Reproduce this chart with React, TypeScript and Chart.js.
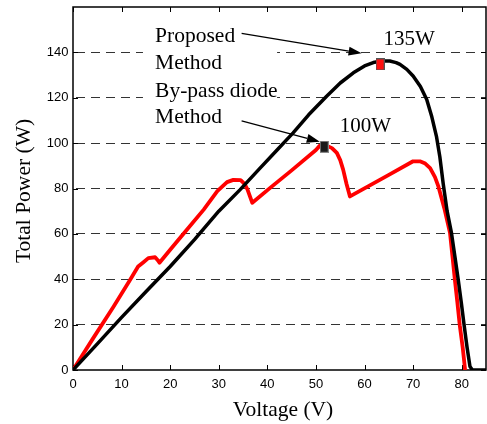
import React, { useEffect, useRef } from "react";
import { Chart, registerables } from "chart.js";

Chart.register(...registerables);

// ---- Data ----
const proposedV = [0, 5, 10, 15, 20, 25, 30, 34.4, 38.5, 42, 45.3, 48.5, 52.2, 55, 57.7, 60, 61.8, 63.5, 65.2, 66.5, 67.3, 68.7, 70, 71.5, 72.8, 73.8, 74.8, 75.5, 76.2, 77, 77.9, 78.6, 79.3, 79.9, 80.5, 81.1, 81.7, 82.2, 85];
const proposedP = [0, 11.5, 23.2, 34.5, 45.6, 57.5, 70, 79.5, 89, 97, 104.5, 112.5, 120.7, 126.5, 131, 134, 135.5, 136.2, 136.2, 135.5, 134.7, 132.5, 129.6, 125, 119.2, 112, 103, 94, 82, 70, 60.3, 50, 39.6, 30, 19.7, 10, 1.5, 0, 0];

const bypassV = [0, 4, 8.3, 11.7, 13.4, 14.5, 15.5, 16.9, 17.4, 17.8, 20, 23, 26.9, 29.7, 31.7, 33, 34.5, 35.3, 35.9, 36.9, 40.7, 45, 50, 50.8, 52.2, 53.3, 54.3, 55, 55.6, 56.3, 57, 61.1, 65, 70, 71.4, 72.5, 73.5, 74.5, 75.2, 76.5, 77.6, 78.1, 78.6, 79.1, 79.6, 80.2, 80.7];
const bypassP = [0, 13.5, 27.8, 39.6, 45.6, 47.5, 49.3, 49.7, 48.5, 47.3, 53, 60.7, 70.7, 78.8, 82.8, 83.8, 83.7, 82, 79.6, 73.7, 80.5, 88, 97, 98.9, 98.9, 97.8, 95.7, 92.5, 88.3, 82, 76.5, 81.4, 86, 92, 92, 91, 89, 85, 80.9, 70.6, 60.3, 50, 39.6, 30, 19.7, 10, 0];

const xTicks = [0, 10, 20, 30, 40, 50, 60, 70, 80];
const yTicks = [0, 20, 40, 60, 80, 100, 120, 140];

const mppV = [63.2, 51.7];
const mppP = [134.7, 98.4];
const mppLabels = ["135W", "100W"];
const mppLabelV = [63.9, 54.9];
const mppLabelP = [143.3, 105];

const noteLines = ["Proposed", "Method", "By-pass diode", "Method"];
const noteLineP = [144.4, 132.7, 120.5, 108.7];
const noteV = 16.9;
const noteBoxV = [14.4, 42];
const noteBoxP = [154, 105.5];

const arrowFromV = [34.7, 34.7];
const arrowFromP = [148.4, 109.8];
const arrowToV = [59.4, 50.8];
const arrowToP = [139.6, 100.6];

const xTitle = "Voltage (V)";
const yTitle = "Total Power (W)";

const SERIF = "'Liberation Serif', 'Times New Roman', serif";
const SANS = "'Liberation Sans', Arial, sans-serif";

function makeMarker(fill: string, stroke: string) {
  const c = document.createElement("canvas");
  c.width = 9;
  c.height = 12;
  const g = c.getContext("2d")!;
  g.fillStyle = stroke;
  g.fillRect(0, 0, 9, 12);
  g.fillStyle = fill;
  g.fillRect(1, 1, 7, 10);
  return c;
}

const decorPlugin = {
  id: "decor",
  beforeDatasetsDraw(chart: any) {
    const { ctx, chartArea, scales } = chart;
    const xs = scales.x;
    const ys = scales.y;
    ctx.save();
    // white box behind the note text
    const bx0 = xs.getPixelForValue(noteBoxV[0]);
    const bx1 = xs.getPixelForValue(noteBoxV[1]);
    const by0 = ys.getPixelForValue(noteBoxP[0]);
    const by1 = ys.getPixelForValue(noteBoxP[1]);
    ctx.fillStyle = "#fff";
    ctx.fillRect(bx0, by0, bx1 - bx0, by1 - by0);

    // frame
    ctx.strokeStyle = "#000";
    ctx.lineWidth = 1.5;
    ctx.strokeRect(chartArea.left, chartArea.top, chartArea.right - chartArea.left, chartArea.bottom - chartArea.top);

    // inward tick marks
    ctx.lineWidth = 1;
    ctx.beginPath();
    xTicks.forEach((v) => {
      const px = Math.round(xs.getPixelForValue(v)) + 0.5;
      ctx.moveTo(px, chartArea.bottom);
      ctx.lineTo(px, chartArea.bottom - 5);
      ctx.moveTo(px, chartArea.top);
      ctx.lineTo(px, chartArea.top + 5);
    });
    yTicks.forEach((v) => {
      const py = Math.round(ys.getPixelForValue(v)) + 0.5;
      ctx.moveTo(chartArea.left, py);
      ctx.lineTo(chartArea.left + 5, py);
      ctx.moveTo(chartArea.right, py);
      ctx.lineTo(chartArea.right - 5, py);
    });
    ctx.stroke();

    // axis titles
    ctx.fillStyle = "#000";
    ctx.font = `21.5px ${SERIF}`;
    ctx.textAlign = "center";
    ctx.textBaseline = "alphabetic";
    ctx.fillText(xTitle, (chartArea.left + chartArea.right) / 2 + 3.5, chartArea.bottom + 45.5);
    ctx.save();
    ctx.translate(chartArea.left - 43, (chartArea.top + chartArea.bottom) / 2 + 2.5);
    ctx.rotate(-Math.PI / 2);
    ctx.fillText(yTitle, 0, 0);
    ctx.restore();
    ctx.restore();
  },
  afterDatasetsDraw(chart: any) {
    const { ctx, scales } = chart;
    const xs = scales.x;
    const ys = scales.y;
    ctx.save();
    ctx.fillStyle = "#000";
    ctx.textAlign = "left";
    ctx.textBaseline = "alphabetic";
    ctx.font = `21.5px ${SERIF}`;
    noteLines.forEach((t, i) => {
      ctx.fillText(t, xs.getPixelForValue(noteV), ys.getPixelForValue(noteLineP[i]));
    });
    ctx.font = `21px ${SERIF}`;
    mppLabels.forEach((t, i) => {
      ctx.fillText(t, xs.getPixelForValue(mppLabelV[i]), ys.getPixelForValue(mppLabelP[i]));
    });
    // arrows
    arrowFromV.forEach((_, i) => {
      const x0 = xs.getPixelForValue(arrowFromV[i]);
      const y0 = ys.getPixelForValue(arrowFromP[i]);
      const x1 = xs.getPixelForValue(arrowToV[i]);
      const y1 = ys.getPixelForValue(arrowToP[i]);
      const ang = Math.atan2(y1 - y0, x1 - x0);
      const hl = 13;
      const hw = 4.5;
      const bx = x1 - hl * Math.cos(ang);
      const by = y1 - hl * Math.sin(ang);
      ctx.strokeStyle = "#000";
      ctx.lineWidth = 1.3;
      ctx.beginPath();
      ctx.moveTo(x0, y0);
      ctx.lineTo(bx, by);
      ctx.stroke();
      ctx.beginPath();
      ctx.moveTo(x1, y1);
      ctx.lineTo(bx + hw * Math.sin(ang), by - hw * Math.cos(ang));
      ctx.lineTo(bx - hw * Math.sin(ang), by + hw * Math.cos(ang));
      ctx.closePath();
      ctx.fill();
    });
    ctx.restore();
  },
};

export default function App() {
  const ref = useRef<HTMLCanvasElement | null>(null);

  useEffect(() => {
    if (!ref.current) return;
    const redMarker = makeMarker("#ff1010", "#555");
    const blackMarker = makeMarker("#1a1a1a", "#888");
    const chart = new Chart(ref.current, {
      type: "line",
      data: {
        datasets: [
          {
            label: "MPP",
            data: mppV.map((v, i) => ({ x: v, y: mppP[i] })),
            showLine: false,
            pointStyle: [redMarker, blackMarker] as any,
            pointRadius: 5,
            order: 0,
          } as any,
          {
            label: "Proposed Method",
            data: proposedV.map((v, i) => ({ x: v, y: proposedP[i] })),
            borderColor: "#000",
            borderWidth: 3.5,
            pointRadius: 0,
            tension: 0,
            borderJoinStyle: "round",
            borderCapStyle: "round",
            order: 1,
          },
          {
            label: "By-pass diode Method",
            data: bypassV.map((v, i) => ({ x: v, y: bypassP[i] })),
            borderColor: "#ff0000",
            borderWidth: 3.8,
            pointRadius: 0,
            tension: 0,
            borderJoinStyle: "round",
            borderCapStyle: "round",
            order: 2,
          },
        ],
      },
      options: {
        responsive: false,
        animation: false,
        events: [],
        layout: { autoPadding: false, padding: { left: 0, right: 1, top: 7, bottom: 0 } },
        plugins: { legend: { display: false }, tooltip: { enabled: false }, title: { display: false } },
        scales: {
          x: {
            type: "linear",
            min: 0,
            max: 85,
            afterFit: (s: any) => {
              s.height = 54;
              s.paddingLeft = 0;
              s.paddingRight = 0;
              s.paddingTop = 0;
              s.paddingBottom = 0;
            },
            afterBuildTicks: (s: any) => {
              s.ticks = xTicks.map((v) => ({ value: v }));
            },
            ticks: {
              color: "#000",
              font: { family: SANS, size: 13 },
              padding: 7,
              maxRotation: 0,
              autoSkip: false,
            },
            grid: { display: false, drawTicks: false },
            border: { display: false },
          },
          y: {
            min: 0,
            max: 160,
            afterFit: (s: any) => {
              s.width = 73;
              s.paddingLeft = 0;
              s.paddingRight = 0;
              s.paddingTop = 0;
              s.paddingBottom = 0;
            },
            afterBuildTicks: (s: any) => {
              s.ticks = yTicks.map((v) => ({ value: v }));
            },
            ticks: {
              color: "#000",
              font: { family: SANS, size: 13 },
              padding: 4.5,
              autoSkip: false,
            },
            grid: {
              drawTicks: false,
              lineWidth: 1,
              color: (c: any) => (c.tick && c.tick.value === 0 ? "rgba(0,0,0,0)" : "#333"),
            },
            border: { display: false, dash: [9, 6], dashOffset: -3 },
          },
        },
      },
      plugins: [decorPlugin],
    } as any);
    return () => chart.destroy();
  }, []);

  return (
    <div style={{ position: "fixed", left: 0, top: 0, width: 487, height: 424, background: "#fff" }}>
      <canvas ref={ref} width={487} height={424} style={{ width: 487, height: 424, display: "block" }} />
    </div>
  );
}
